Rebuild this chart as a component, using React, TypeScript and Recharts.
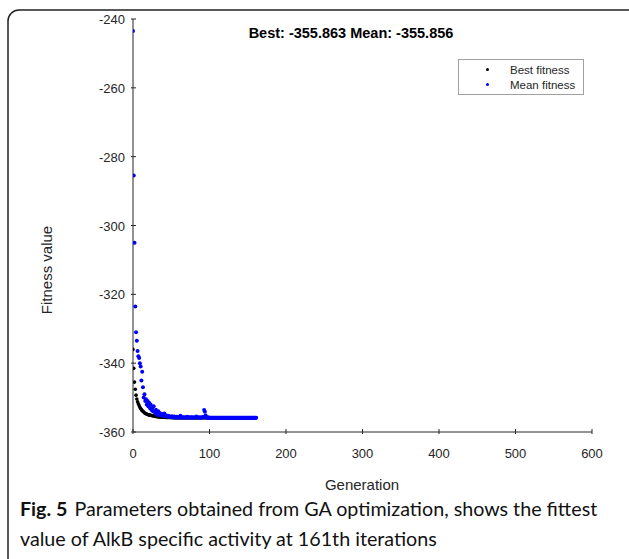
import React from 'react';
import { ScatterChart, Scatter, XAxis, YAxis } from 'recharts';

// generation 0..161
const bestFitness = [
  -336.0, -341.5, -345.5, -347.6, -349.3, -350.4, -351.2, -351.8, -352.3, -352.8,
  -353.2, -353.5, -353.8, -354.0, -354.2, -354.4, -354.6, -354.7, -354.8, -354.9,
  -355.0, -355.05, -355.1, -355.15, -355.2, -355.25, -355.3, -355.35, -355.4, -355.45,
  -355.5, -355.52, -355.55, -355.58, -355.6, -355.62, -355.64, -355.66, -355.68, -355.7,
  -355.72, -355.73, -355.74, -355.75, -355.76, -355.77, -355.78, -355.79, -355.8, -355.8,
  -355.81, -355.81, -355.82, -355.82, -355.83, -355.83, -355.84, -355.84, -355.84, -355.85,
  -355.85, -355.85, -355.85, -355.85, -355.85, -355.85, -355.85, -355.85, -355.85, -355.85,
  -355.85, -355.86, -355.86, -355.86, -355.86, -355.86, -355.86, -355.86, -355.86, -355.86,
  -355.86, -355.86, -355.86, -355.86, -355.86, -355.86, -355.86, -355.86, -355.86, -355.86,
  -355.86, -355.86, -355.86, -355.86, -355.86, -355.86, -355.86, -355.86, -355.86, -355.86,
  -355.86, -355.86, -355.86, -355.86, -355.86, -355.86, -355.86, -355.86, -355.86, -355.86,
  -355.86, -355.86, -355.86, -355.86, -355.86, -355.86, -355.86, -355.86, -355.86, -355.86,
  -355.86, -355.86, -355.86, -355.86, -355.86, -355.86, -355.86, -355.86, -355.86, -355.86,
  -355.86, -355.86, -355.86, -355.86, -355.86, -355.86, -355.86, -355.86, -355.86, -355.86,
  -355.86, -355.86, -355.86, -355.86, -355.86, -355.86, -355.86, -355.86, -355.86, -355.86,
  -355.86, -355.86, -355.86, -355.86, -355.86, -355.86, -355.86, -355.86, -355.86, -355.86,
  -355.863, -355.863,
];

const meanFitness = [
  -243.5, -285.5, -305.0, -323.5, -331.0, -333.5, -336.5, -338.0, -338.5, -340.0,
  -341.0, -345.0, -342.5, -347.0, -350.0, -349.0, -351.0, -350.5, -352.0, -351.0,
  -352.5, -351.5, -353.0, -352.0, -353.5, -353.0, -354.0, -352.5, -354.0, -354.5,
  -353.5, -354.5, -355.0, -354.0, -355.0, -354.5, -355.0, -355.2, -354.8, -355.3,
  -355.1, -354.6, -355.3, -355.4, -355.2, -355.5, -355.3, -355.6, -355.5, -355.6,
  -355.6, -355.4, -355.7, -355.7, -355.5, -355.7, -355.8, -355.6, -355.7, -355.8,
  -355.8, -355.7, -355.3, -355.8, -355.8, -355.7, -355.8, -355.8, -355.8, -355.8,
  -355.8, -355.6, -355.8, -355.8, -355.8, -355.8, -355.7, -355.8, -355.8, -355.8,
  -355.8, -355.8, -355.8, -355.5, -355.8, -355.8, -355.8, -355.8, -355.8, -355.8,
  -355.8, -355.8, -355.6, -353.6, -354.1, -355.2, -355.8, -355.8, -355.8, -355.8,
  -355.85, -355.85, -355.85, -355.85, -355.85, -355.85, -355.85, -355.85, -355.85, -355.85,
  -355.85, -355.85, -355.85, -355.85, -355.85, -355.85, -355.85, -355.85, -355.85, -355.85,
  -355.85, -355.85, -355.85, -355.85, -355.85, -355.85, -355.85, -355.85, -355.85, -355.85,
  -355.85, -355.85, -355.85, -355.85, -355.85, -355.85, -355.85, -355.85, -355.85, -355.85,
  -355.85, -355.85, -355.85, -355.85, -355.85, -355.85, -355.85, -355.85, -355.85, -355.85,
  -355.85, -355.85, -355.85, -355.85, -355.85, -355.85, -355.85, -355.85, -355.85, -355.85,
  -355.856, -355.856,
];

const xTicks = [0, 100, 200, 300, 400, 500, 600];
const yTicks = [-360, -340, -320, -300, -280, -260, -240];
const legendItems = [
  { label: 'Best fitness', color: '#000' },
  { label: 'Mean fitness', color: '#0000ff' },
];

const bestData = bestFitness.map((v, i) => ({ gen: i, value: v }));
const meanData = meanFitness.map((v, i) => ({ gen: i, value: v }));

const AXIS = '#262626';
const FONT = '"Liberation Sans", Arial, sans-serif';

const XTick = ({ x, y, payload }: any) => (
  <g>
    <line x1={x} y1={y} x2={x} y2={y - 5} stroke={AXIS} strokeWidth={1} />
    <text x={x} y={y + 24} textAnchor="middle" fontSize={13} fill={AXIS} fontFamily={FONT}>
      {payload.value}
    </text>
  </g>
);

const YTick = ({ x, y, payload }: any) => (
  <g>
    <line x1={x} y1={y} x2={x + 5} y2={y} stroke={AXIS} strokeWidth={1} />
    <text x={x - 6} y={y + 5} textAnchor="end" fontSize={13} fill={AXIS} fontFamily={FONT}>
      {payload.value}
    </text>
  </g>
);

const dot = (color: string, r: number) => (props: any) =>
  <circle cx={props.cx} cy={props.cy} r={r} fill={color} />;

export default function App() {
  return (
    <div style={{ position: 'absolute', left: 0, top: 0, width: 629, height: 559, background: '#fff' }}>
      <ScatterChart width={629} height={559} margin={{ top: 19, right: 37, bottom: 97, left: 73 }}>
        <XAxis
          type="number"
          dataKey="gen"
          domain={[0, 600]}
          ticks={xTicks}
          height={30}
          stroke={AXIS}
          tickLine={false}
          tickSize={0}
          tick={<XTick />}
          allowDataOverflow
        />
        <YAxis
          type="number"
          dataKey="value"
          domain={[-360, -240]}
          ticks={yTicks}
          width={60}
          stroke={AXIS}
          tickLine={false}
          tickSize={0}
          tick={<YTick />}
          allowDataOverflow
        />
        <Scatter name="Best fitness" data={bestData} fill="#000" shape={dot('#000', 1.8)} isAnimationActive={false} />
        <Scatter name="Mean fitness" data={meanData} fill="#0000ff" shape={dot('#0000ff', 2)} isAnimationActive={false} />
      </ScatterChart>
      <div
        style={{
          position: 'absolute',
          left: 458,
          top: 59,
          width: 126,
          height: 36,
          border: '1px solid #a0a0a0',
          background: '#fff',
          fontFamily: FONT,
          fontSize: 11.5,
          color: AXIS,
          boxSizing: 'border-box',
          paddingTop: 2,
        }}
      >
        {legendItems.map((d) => (
          <div key={d.label} style={{ display: 'flex', alignItems: 'center', height: 15 }}>
            <span
              style={{
                display: 'inline-block',
                width: 3,
                height: 3,
                borderRadius: 2,
                background: d.color,
                marginLeft: 27,
                marginRight: 21,
              }}
            />
            {d.label}
          </div>
        ))}
      </div>
      <svg
        width={629}
        height={559}
        style={{ position: 'absolute', left: 0, top: 0, pointerEvents: 'none' }}
      >
        <rect x={8} y={10} width={640} height={580} rx={11} fill="none" stroke="#222" strokeWidth={1.5} />
        <text x={351} y={38} textAnchor="middle" fontSize={14.5} fontWeight="bold" fill="#000" fontFamily={FONT}>
          Best: -355.863 Mean: -355.856
        </text>
        <text x={362} y={490} textAnchor="middle" fontSize={15} fill={AXIS} fontFamily={FONT}>
          Generation
        </text>
        <text
          x={0}
          y={0}
          transform="translate(52,270) rotate(-90)"
          textAnchor="middle"
          fontSize={15}
          fill={AXIS}
          fontFamily={FONT}
        >
          Fitness value
        </text>
        <text x={20} y={516} fontSize={19.7} fill="#111" fontFamily="Lato, sans-serif">
          <tspan fontWeight="bold">Fig. 5</tspan>
          <tspan dx={7}>Parameters obtained from GA optimization, shows the fittest</tspan>
        </text>
        <text x={20} y={546} fontSize={19.7} fill="#111" fontFamily="Lato, sans-serif">
          value of AlkB specific activity at 161th iterations
        </text>
      </svg>
    </div>
  );
}
